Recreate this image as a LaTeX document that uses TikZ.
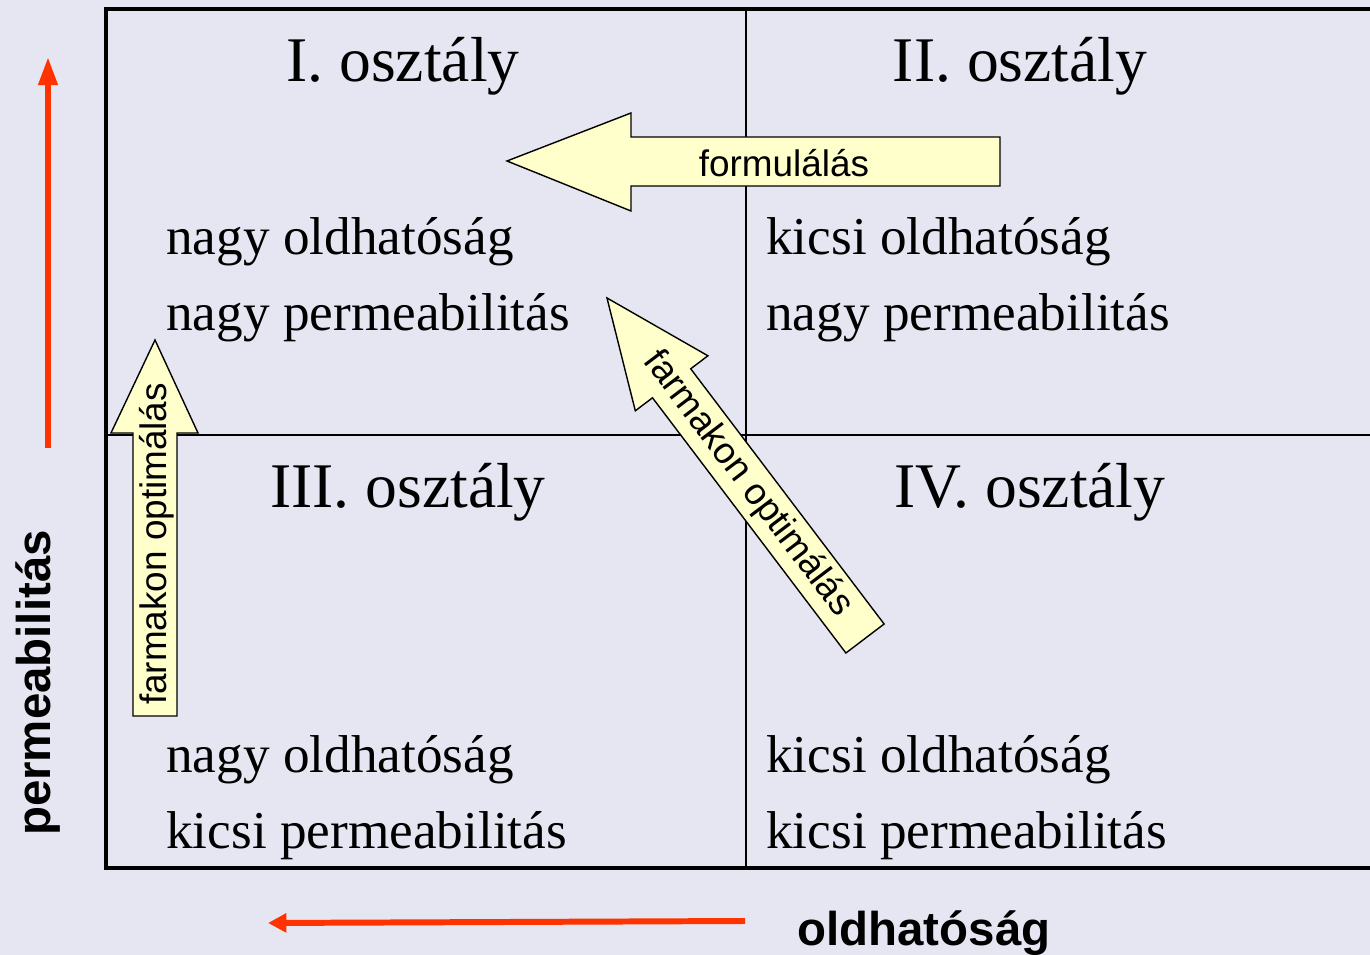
\documentclass[tikz,border=0pt]{standalone}
\usepackage{fontspec}
\setmainfont{Liberation Serif}
\setsansfont{Liberation Sans}
\usetikzlibrary{arrows.meta}
\definecolor{bg}{HTML}{E6E6F2}
\definecolor{yel}{HTML}{FFFFCC}
\definecolor{redarr}{HTML}{FF3300}
\begin{document}
\begin{tikzpicture}[x=0.02cm,y=-0.02cm,
  title/.style={font=\fontsize{36.2}{40}\selectfont, inner sep=0pt, anchor=base},
  prop/.style={font=\fontsize{30.3}{34}\selectfont, inner sep=0pt, anchor=base west},
  lab/.style={font=\sffamily\fontsize{21}{24}\selectfont, inner sep=0pt},
  axislab/.style={font=\sffamily\bfseries\fontsize{27}{30}\selectfont, inner sep=0pt},
  frame/.style={line width=2.8pt, line join=miter},
  grid/.style={line width=1.1pt},
  blockarrow/.style={draw=black, fill=yel, line width=0.8pt, line join=miter},
  redup/.style={draw=redarr, line width=3.4pt, -{Triangle[length=16pt, width=10.5pt]}},
  redleft/.style={draw=redarr, line width=3.4pt, -{Triangle[length=10.5pt, width=10.5pt]}}
]
\fill[bg] (0,0) rectangle (1370,955);
\useasboundingbox (0,0) rectangle (1370,955);

% grid
\coordinate (vtop) at (746,9);
\coordinate (vbot) at (746,868);
\coordinate (hl) at (106,435);
\coordinate (hr) at (1370,435);
\draw[grid] (vtop) -- (vbot);
\draw[grid] (hl) -- (hr);
\draw[frame] (1370,9) -- (106,9) -- (106,868) -- (1370,868);

% titles
\node[title] (t1) at (403,82) {I. osztály};
\node[title] (t2) at (1020,82) {II. osztály};
\node[title] (t3) at (408,508) {III. osztály};
\node[title] (t4) at (1030,508) {IV. osztály};

% properties
\node[prop] (p1a) at (166,255) {nagy oldhatóság};
\node[prop] (p1b) at (166,331) {nagy permeabilitás};
\node[prop] (p2a) at (766,255) {kicsi oldhatóság};
\node[prop] (p2b) at (766,331) {nagy permeabilitás};
\node[prop] (p3a) at (166,773) {nagy oldhatóság};
\node[prop] (p3b) at (166,849) {kicsi permeabilitás};
\node[prop] (p4a) at (766,773) {kicsi oldhatóság};
\node[prop] (p4b) at (766,849) {kicsi permeabilitás};

% formulalas arrow
\draw[blockarrow] (507,161) -- (631,113) -- (631,137) -- (1000,137) -- (1000,186) -- (631,186) -- (631,211) -- cycle;
\node[lab, anchor=base] (lf) at (784,177) {formulálás};

% vertical block arrow
\draw[blockarrow] (155,340) -- (198,433) -- (177,433) -- (177,716) -- (133,716) -- (133,433) -- (111,433) -- cycle;
\node[lab, anchor=base, rotate=90] (lv) at (166,544) {farmakon optimálás};

% diagonal block arrow
\draw[blockarrow] (607,298) -- (707.9,355.8) -- (690.7,368.8) -- (884.1,624) -- (845.9,653) -- (652.5,397.8) -- (635.3,410.8) -- cycle;
\node[lab, rotate=-52.85] (ld) at (747.8,483.8) {farmakon optimálás};

% red axis arrows
\coordinate (ua) at (48,448);
\coordinate (ub) at (48,57);
\draw[redup] (ua) -- (ub);
\coordinate (la) at (745,921);
\coordinate (lb) at (268,923);
\draw[redleft] (la) -- (lb);

\node[axislab, anchor=base, rotate=90] (ap) at (51,683) {permeabilitás};
\node[axislab, anchor=base west] (ao) at (797,946) {oldhatóság};
\end{tikzpicture}
\end{document}
